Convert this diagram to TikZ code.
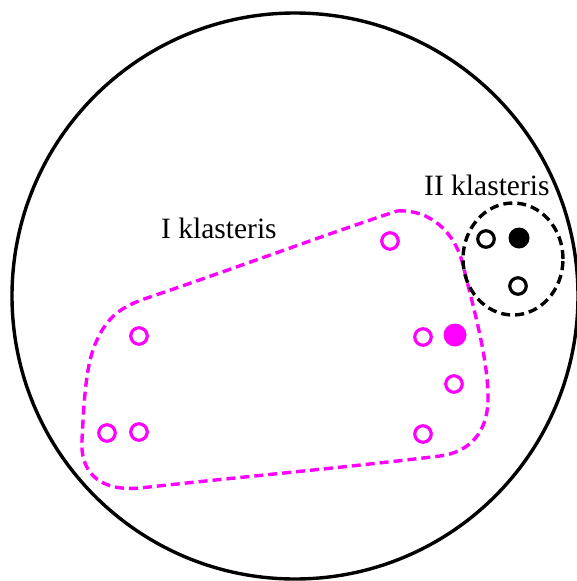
\documentclass[tikz,border=0pt]{standalone}
\usepackage{fontspec}
\setmainfont{Liberation Serif}
\usetikzlibrary{shapes.geometric}
\definecolor{mag}{RGB}{255,0,255}
\begin{document}
\begin{tikzpicture}[x=1pt,y=-1pt,
  hollowdot/.style={circle,draw=#1,line width=3.2pt,inner sep=0pt,minimum size=16.5pt},
  fulldot/.style={circle,fill=#1,inner sep=0pt,minimum size=23pt},
  clusterline/.style={line width=3.4pt,dash pattern=on 9pt off 5pt},
  label/.style={anchor=base west,inner sep=0pt,font=\fontsize{29.5}{35}\selectfont}]
\useasboundingbox (0,0) rectangle (577,581);
% outer circle
\node[circle,draw=black,line width=3.4pt,inner sep=0pt,minimum size=566pt] (world) at (295,296) {};
% cluster I outline
\draw[clusterline,draw=mag]
  (397,211) .. controls (430,209) and (455,232) .. (463,265)
  .. controls (474,310) and (487,355) .. (488,395)
  .. controls (489,432) and (470,452) .. (440,456)
  .. controls (340,468) and (240,477) .. (140,488)
  .. controls (95,492) and (80,468) .. (82,440)
  .. controls (84,400) and (86,362) .. (97,340)
  .. controls (108,316) and (122,306) .. (150,297)
  .. controls (230,270) and (330,233) .. (397,211) -- cycle;
% cluster II outline
\node[ellipse,draw=black,clusterline,minimum width=100pt,minimum height=112pt,inner sep=0pt] (c2) at (513,259) {};
% pink points
\node[hollowdot=mag] (p1) at (390,241) {};
\node[hollowdot=mag] (p2) at (139,336) {};
\node[hollowdot=mag] (p3) at (107,433) {};
\node[hollowdot=mag] (p4) at (139,432) {};
\node[hollowdot=mag] (p5) at (423,337) {};
\node[fulldot=mag] (p6) at (455,335) {};
\node[hollowdot=mag] (p7) at (454,384) {};
\node[hollowdot=mag] (p8) at (423,434) {};
% black points
\node[hollowdot=black] (b1) at (486,239) {};
\node[fulldot=black,minimum size=21pt] (b2) at (519,238) {};
\node[hollowdot=black] (b3) at (518,286) {};
% labels
\node[label] (l1) at (161,238) {I klasteris};
\node[label] (l2) at (424,195) {II klasteris};
\end{tikzpicture}
\end{document}
